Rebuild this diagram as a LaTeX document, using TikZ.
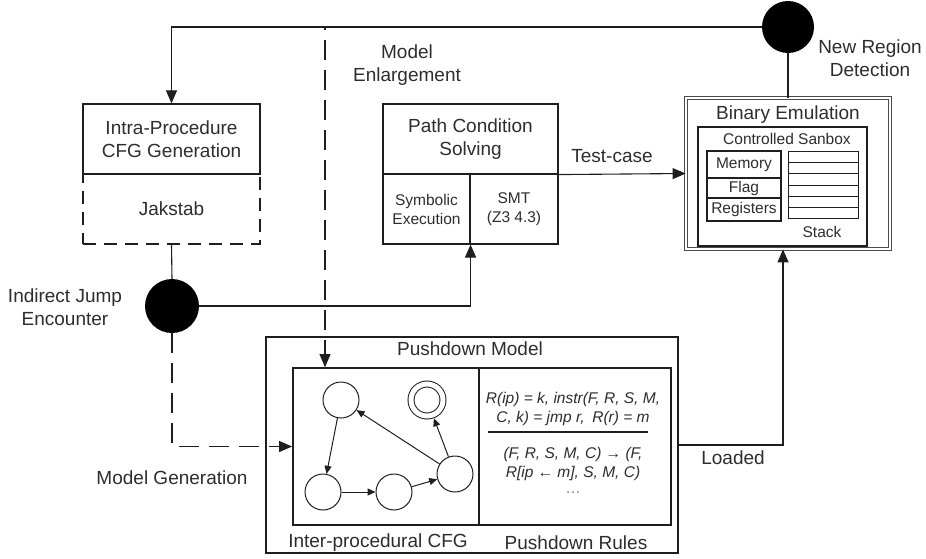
\documentclass[tikz,border=0pt]{standalone}
\usepackage{fontspec}
\setmainfont{Liberation Sans}
\usetikzlibrary{arrows.meta}
\definecolor{ink}{RGB}{30,30,30}
\definecolor{txt}{RGB}{45,45,45}
\tikzset{
  big/.style={font=\fontsize{19}{23}\selectfont, text=txt, align=center},
  sml/.style={font=\fontsize{15.5}{19}\selectfont, text=txt, align=center},
  boxl/.style={draw=ink, line width=1.1pt, inner sep=0pt},
  thickb/.style={draw=ink, line width=1.8pt, inner sep=0pt},
  arr/.style={draw=ink, line width=1.1pt, -{Triangle[length=13pt,width=11pt]}},
  sarr/.style={draw=ink, line width=1pt, -{Triangle[length=8pt,width=7pt]}},
  longdash/.style={dash pattern=on 20pt off 10pt},
  blob/.style={circle, fill=black, inner sep=0pt},
  st/.style={circle, draw=ink, line width=1pt, minimum size=36pt, inner sep=0pt},
}
\begin{document}
\begin{tikzpicture}[x=1pt,y=-1pt]
\useasboundingbox (0,0) rectangle (926,558);

% Intra-procedure box
\node[boxl, dash pattern=on 13pt off 8pt, minimum width=177pt, minimum height=70pt] (jak) at (171.5,209) {};
\node[big] at (jak.center) {Jakstab};
\node[boxl, line width=1.3pt, minimum width=177pt, minimum height=70pt, big] (intra) at (171.5,139) {Intra-Procedure\\CFG Generation};

% Blobs
\node[blob, minimum size=54pt] (ij) at (172,306) {};
\node[blob, minimum size=52pt] (nr) at (788,27) {};

% Path condition solving
\node[boxl, minimum width=175pt, minimum height=70pt, big] (pc) at (470.5,139) {Path Condition\\Solving};
\node[boxl, minimum width=87pt, minimum height=70pt, sml] (sym) at (426.5,209) {Symbolic\\Execution};
\node[boxl, minimum width=88pt, minimum height=70pt, sml] (smt) at (514,209) {SMT\\(Z3 4.3)};

% Binary emulation
\node[draw=ink!80, line width=0.8pt, double, double distance=1.6pt, minimum width=204pt, minimum height=151pt, inner sep=0pt] (be) at (788,173.5) {};
\node[big] at (788,115) {Binary Emulation};
\node[boxl, minimum width=169pt, minimum height=119pt] (sb) at (782.5,186.5) {};
\node[sml] at (787,139) {Controlled Sanbox};
\node[thickb, minimum width=74pt, minimum height=27pt, sml] (mem) at (744,164.5) {Memory};
\node[thickb, minimum width=74pt, minimum height=20pt, sml] (flag) at (744,188) {Flag};
\node[thickb, minimum width=74pt, minimum height=23pt, sml] (reg) at (744,209.5) {Registers};
\foreach \i in {0,...,5} {
  \node[boxl, line width=1pt, minimum width=70pt, minimum height=11.33pt] (st\i) at (823,{156.67+11.33*\i}) {};
}
\node[sml] at (822,232) {Stack};

% Pushdown model
\node[boxl, minimum width=412pt, minimum height=216pt] (pm) at (472,445) {};
\node[big] at (470,349) {Pushdown Model};
\node[thickb, minimum width=186pt, minimum height=157pt] (cfg) at (386,446.5) {};
\node[thickb, minimum width=192pt, minimum height=157pt] (rules) at (575,446.5) {};
\node[big] at (378,543) {Inter-procedural CFG};
\node[big] at (576,543) {Pushdown Rules};

\node[sml, font=\fontsize{15.5}{19}\selectfont\itshape] (prem) at (573,408.5) {R(ip) = k, instr(F, R, S, M,\\C, k) = jmp r,\enspace R(r) = m};
\draw[ink, line width=1.2pt] (488,432) -- (648,432);
\node[sml, font=\fontsize{15.5}{19}\selectfont\itshape] (conc) at (573,464) {(F, R, S, M, C) → (F,\\R[ip ← m], S, M, C)};
\node[sml, text=gray] (dots) at (573,493) {…};

% CFG states
\node[st] (A) at (341,400) {};
\node[circle, draw=ink, line width=1pt, double, double distance=5pt, minimum size=32pt, outer sep=3.5pt, inner sep=0pt] (B) at (427,400) {};
\node[st] (C) at (323,492) {};
\node[st] (D) at (394,492) {};
\node[st] (E) at (455,474) {};
\draw[sarr] (A) -- (C);
\draw[sarr] (C) -- (D);
\draw[sarr] (D) -- (E);
\draw[sarr] (E) -- (A);
\draw[sarr] (E) -- (B);

% Connectors
\coordinate (me) at (325,27);
\draw[ink, line width=1.1pt, longdash] (nr.west) -- (me) -- (me |- cfg.north);
\draw[arr] (me |- cfg.north) ++(0,-1) -- (me |- cfg.north);
\draw[arr] (nr.west) -| (intra.north);
\draw[ink, line width=1.1pt] (jak.south) -- (ij.north);
\draw[arr] (ij.east) -| (sym.south east);
\draw[ink, line width=1.1pt, longdash] (ij.south) |- (cfg.west);
\draw[arr] ([xshift=-1pt]cfg.west) -- (cfg.west);
\draw[arr] (pc.south east) -- (be.west);
\draw[ink, line width=1.1pt] (nr.south) -- (be.north);
\draw[arr] (pm.east) -| ([xshift=-5pt]be.south);

% Labels
\node[big] at (407,65) {Model\\Enlargement};
\node[big] at (870,58.5) {New Region\\Detection};
\node[big] at (65,307.5) {Indirect Jump\\Encounter};
\node[big] at (172,478) {Model Generation};
\node[big] at (612,156) {Test-case};
\node[big] at (733,458) {Loaded};
\end{tikzpicture}
\end{document}
